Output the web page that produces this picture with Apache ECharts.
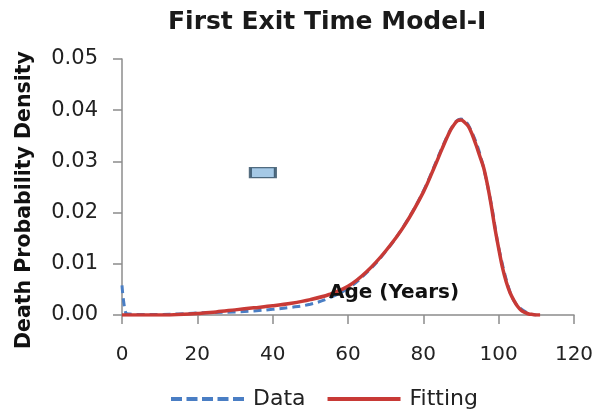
<!DOCTYPE html>
<html>
<head>
<meta charset="utf-8">
<script src="https://cdn.jsdelivr.net/npm/echarts@6/dist/echarts.min.js"></script>
<style>
  html, body { margin: 0; padding: 0; background: #fff; }
  #chart { width: 605px; height: 419px; }
</style>
</head>
<body>
<div id="chart"></div>
<script>
// Observed death probability density by age
const dataAges = [0, 1, 2, 5, 10, 15, 20, 25, 30, 35, 40, 45, 50, 55, 60, 65, 70, 75, 80, 85, 88, 90, 92, 95, 98, 100, 103, 105, 108, 110];
const dataValues = [0.0058, 0.0004, 0.0002, 0.0001, 0.0001, 0.0002, 0.0004, 0.0005, 0.0006, 0.0008, 0.0011, 0.0015, 0.0021, 0.0033, 0.0052, 0.0083, 0.0124, 0.0176, 0.0242, 0.0327, 0.0372, 0.0383, 0.0370, 0.0315, 0.0218, 0.0132, 0.0045, 0.0018, 0.0003, 0.0000];

// Fitted first exit time density
const fitAges = [0, 5, 10, 15, 18, 20, 25, 30, 35, 40, 45, 50, 55, 60, 65, 70, 75, 80, 83, 85, 87, 88, 89, 90, 91, 92, 93, 94, 95, 96, 97, 98, 99, 100, 101, 102, 103, 104, 105, 106, 107, 108, 109, 110, 111];
const fitValues = [0, 0, 0, 0.0001, 0.0002, 0.0003, 0.0006, 0.0010, 0.0014, 0.0018, 0.0023, 0.0030, 0.0040, 0.0056, 0.0085, 0.0125, 0.0175, 0.0240, 0.0290, 0.0325, 0.0358, 0.0370, 0.0379, 0.0381, 0.0376, 0.0368, 0.0352, 0.0332, 0.0310, 0.0288, 0.0255, 0.0215, 0.0170, 0.0130, 0.0093, 0.0065, 0.0044, 0.0029, 0.0017, 0.0009, 0.0005, 0.0002, 0.0001, 0, 0];

// Stray box marker inside the plot area
const boxPoint = [[37.4, 0.0278]];

const xTicks = [0, 20, 40, 60, 80, 100, 120];
const yTicks = [0, 0.01, 0.02, 0.03, 0.04, 0.05];

const FONT = '"DejaVu Sans", "Open Sans", sans-serif';
const BLUE = '#4a7ec4';
const RED = '#c83a36';
const zip = (xs, ys) => xs.map((x, i) => [x, ys[i]]);

// legend swatches: five dashes for the data line, a solid bar for the fit
const DASH_ICON = 'path://M0,0h11v4h-11z M15.5,0h11v4h-11z M31,0h11v4h-11z M46.5,0h11v4h-11z M62,0h11v4h-11z';
const LINE_ICON = 'path://M0,0h73v4h-73z';

const chart = echarts.init(document.getElementById('chart'), null, { renderer: 'canvas' });
chart.setOption({
  animation: false,
  backgroundColor: '#ffffff',
  title: {
    text: 'First Exit Time Model-I',
    left: 163,
    top: 5,
    textStyle: { fontFamily: FONT, fontSize: 25, fontWeight: 'bold', color: '#1a1a1a' }
  },
  grid: { left: 122, right: 31, top: 59, bottom: 104, containLabel: false },
  legend: {
    data: [
      { name: 'Data', icon: DASH_ICON, itemStyle: { color: BLUE } },
      { name: 'Fitting', icon: LINE_ICON, itemStyle: { color: RED } }
    ],
    bottom: 4,
    left: 166,
    itemWidth: 73,
    itemHeight: 4,
    itemGap: 22,
    textStyle: { fontFamily: FONT, fontSize: 22, color: '#222', padding: [0, 0, 0, 4] }
  },
  xAxis: {
    type: 'value',
    min: xTicks[0],
    max: xTicks[xTicks.length - 1],
    interval: 20,
    axisLine: { lineStyle: { color: '#8c8c8c', width: 1.5 } },
    axisTick: { show: true, length: 9, lineStyle: { color: '#8c8c8c', width: 1.5 } },
    axisLabel: { fontFamily: FONT, fontSize: 20, color: '#222', margin: 30 },
    splitLine: { show: false }
  },
  yAxis: {
    type: 'value',
    min: yTicks[0],
    max: yTicks[yTicks.length - 1],
    interval: 0.01,
    axisLine: { show: true, lineStyle: { color: '#8c8c8c', width: 1.5 } },
    axisTick: { show: true, length: 9, lineStyle: { color: '#8c8c8c', width: 1.5 } },
    axisLabel: {
      fontFamily: FONT, fontSize: 21, color: '#222', margin: 24,
      formatter: v => v.toFixed(2)
    },
    splitLine: { show: false }
  },
  graphic: [
    {
      type: 'text',
      x: 25,
      y: 200,
      rotation: Math.PI / 2,
      style: {
        text: 'Death Probability Density', fontFamily: FONT, fontSize: 20.5, fontWeight: 'bold',
        fill: '#111', align: 'center', verticalAlign: 'middle'
      }
    },
    {
      type: 'text',
      left: 329,
      top: 283,
      style: { text: 'Age (Years)', fontFamily: FONT, fontSize: 20, fontWeight: 'bold', fill: '#111' },
      z: 10
    }
  ],
  series: [
    {
      name: 'Data',
      type: 'line',
      data: zip(dataAges, dataValues),
      smooth: 0.35,
      symbol: 'none',
      lineStyle: { color: BLUE, width: 3, type: [8, 5] },
      itemStyle: { color: BLUE },
      z: 2
    },
    {
      name: 'Fitting',
      type: 'line',
      data: zip(fitAges, fitValues),
      smooth: 0.35,
      symbol: 'none',
      lineStyle: { color: RED, width: 3.5 },
      itemStyle: { color: RED },
      z: 3
    },
    {
      name: 'box',
      type: 'scatter',
      data: boxPoint,
      symbol: 'rect',
      symbolSize: [25, 10],
      itemStyle: { color: '#8fbbe0', borderColor: '#2c4a60', borderWidth: 2 },
      silent: true,
      z: 4
    }
  ]
});
</script>
</body>
</html>
